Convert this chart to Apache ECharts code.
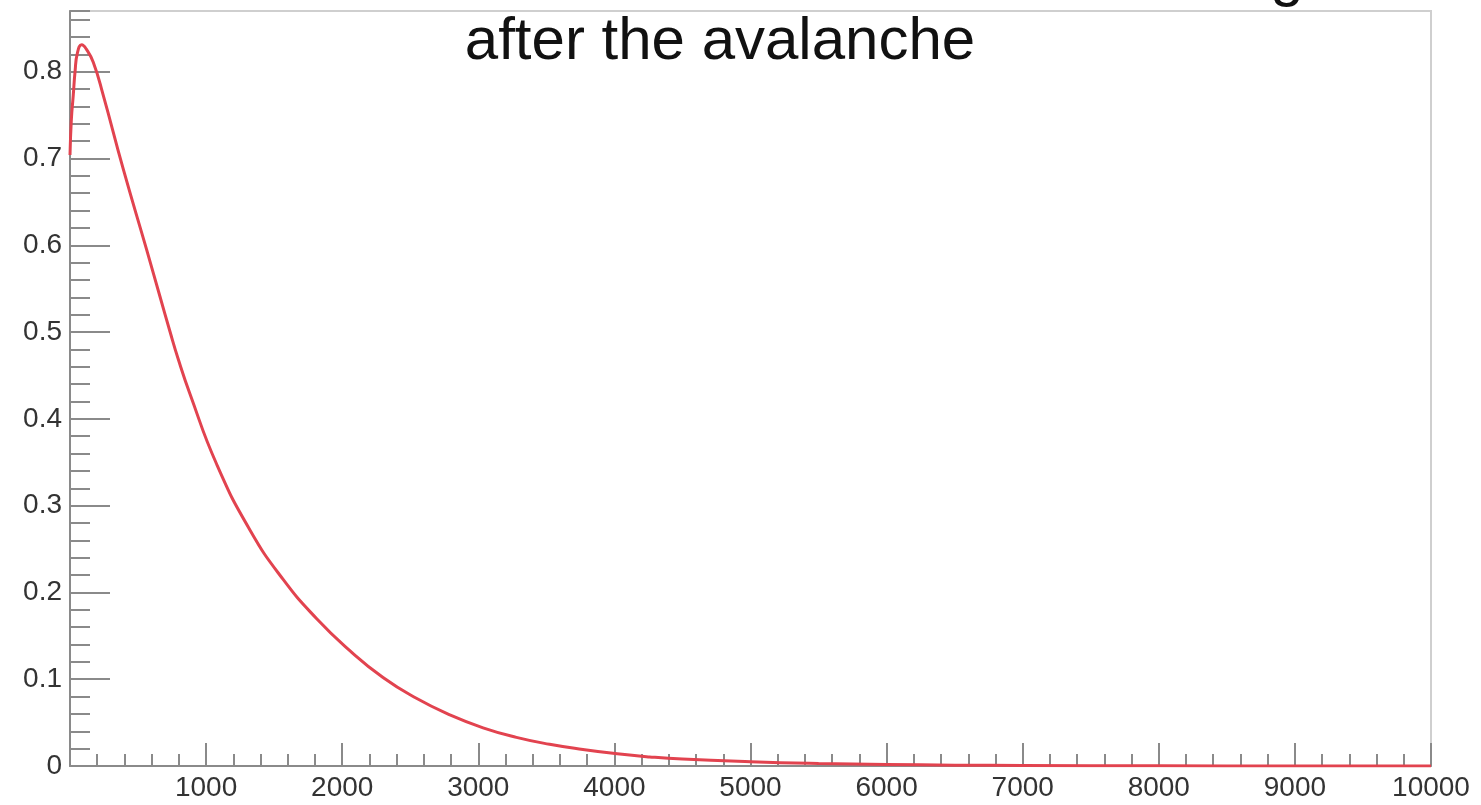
<!DOCTYPE html>
<html>
<head>
<meta charset="utf-8">
<script src="https://cdn.jsdelivr.net/npm/echarts@6/dist/echarts.min.js"></script>
<style>
html,body{margin:0;padding:0;background:#fff;}
#chart{width:1481px;height:805px;}
</style>
</head>
<body>
<div id="chart"></div>
<script>
// Title lines (first line is cut off at the top of the original picture)
const titleLines = ['Normalized distribution of the number of charges', 'after the avalanche'];

// Curve: number of charges (x) and probability density (y)
const xValues = [0, 10, 24, 37, 55, 86, 120, 171, 244, 391, 563, 661, 734, 795, 881, 1077, 1322, 1566, 1811, 2056, 2300, 2545, 2790, 3035, 3280, 3524, 3769, 4021, 4258, 4500, 5000, 5500, 6000, 6500, 7000, 8000, 9000, 10000];
const yValues = [0.704, 0.745, 0.773, 0.800, 0.822, 0.831, 0.826, 0.811, 0.773, 0.688, 0.595, 0.541, 0.501, 0.469, 0.429, 0.348, 0.272, 0.215, 0.170, 0.133, 0.102, 0.078, 0.059, 0.044, 0.033, 0.025, 0.019, 0.014, 0.0105, 0.008, 0.005, 0.003, 0.0018, 0.001, 0.0006, 0.0002, 0.0001, 0];

// Axis ranges
const xMin = 0, xMax = 10000, xStep = 1000;
const yMin = 0, yMax = 0.87, yStep = 0.1, yMinorStep = 0.02;

const chart = echarts.init(document.getElementById('chart'), null, {renderer: 'canvas'});
const FONT = 'Liberation Sans, Arial, Helvetica, sans-serif';
const axisGray = '#8a8a8a';

const option = {
  backgroundColor: '#ffffff',
  animation: false,
  graphic: [
    {type: 'text', x: 720, y: -22, z: 100, style: {text: titleLines[0], font: '60px ' + FONT, fill: '#111', textAlign: 'center', textVerticalAlign: 'middle'}},
    {type: 'text', x: 720, y: 42, z: 100, style: {text: titleLines[1], font: '60px ' + FONT, fill: '#111', textAlign: 'center', textVerticalAlign: 'middle'}}
  ],
  grid: {left: 70, right: 50, top: 11, bottom: 39, show: true, borderColor: '#cfcfcf', borderWidth: 2, backgroundColor: '#ffffff'},
  xAxis: {
    type: 'value', min: xMin, max: xMax, interval: xStep,
    axisLine: {show: true, onZero: false, lineStyle: {color: axisGray, width: 2}},
    axisTick: {show: true, inside: true, length: 23, lineStyle: {color: axisGray, width: 2}},
    minorTick: {show: true, splitNumber: 5, length: 12, lineStyle: {color: axisGray, width: 2}},
    splitLine: {show: false},
    axisLabel: {show: true, margin: 8, color: '#333', fontSize: 28, fontFamily: FONT,
      formatter: v => (v === 0 ? '' : String(v))}
  },
  yAxis: [
    {
      type: 'value', min: yMin, max: yMax, interval: yStep,
      axisLine: {show: true, onZero: false, lineStyle: {color: axisGray, width: 2}},
      axisTick: {show: true, inside: true, length: 40, lineStyle: {color: axisGray, width: 2}},
      splitLine: {show: false},
      axisLabel: {show: true, margin: 8, color: '#333', fontSize: 28, fontFamily: FONT, showMaxLabel: false,
        formatter: v => {
          const k = v / yStep;
          if (Math.abs(k - Math.round(k)) > 1e-6) return '';
          return v === 0 ? '0' : (+v.toFixed(1)).toString();
        }}
    },
    {
      type: 'value', position: 'left', min: yMin, max: yMax, interval: yMinorStep,
      axisLine: {show: false},
      axisTick: {show: true, inside: true, length: 20, lineStyle: {color: axisGray, width: 2}},
      splitLine: {show: false},
      axisLabel: {show: false}
    }
  ],
  series: [{
    type: 'line',
    xAxisIndex: 0, yAxisIndex: 0,
    data: xValues.map((x, i) => [x, yValues[i]]),
    showSymbol: false,
    smooth: 0.5,
    lineStyle: {color: '#e2434f', width: 3},
    z: 5
  }]
};
chart.setOption(option);
</script>
</body>
</html>
